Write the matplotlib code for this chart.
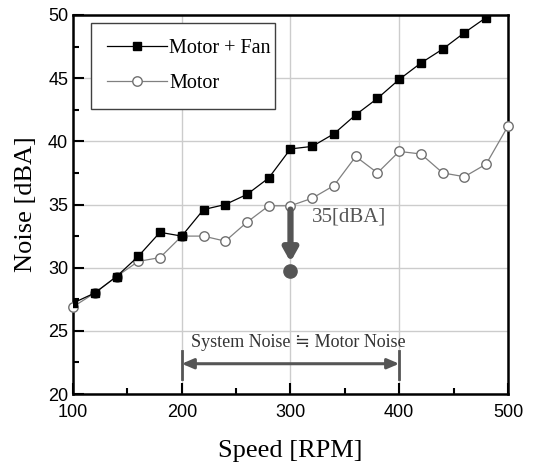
import numpy as np
import matplotlib
matplotlib.use("Agg")
from matplotlib import pyplot as plt
from matplotlib.ticker import MultipleLocator

# speed steps in RPM
speed_fan = [100, 120, 140, 160, 180, 200, 220, 240, 260, 280,
             300, 320, 340, 360, 380, 400, 420, 440, 460, 480]
noise_fan = [27.2, 28.0, 29.3, 30.9, 32.8, 32.5, 34.6, 35.0, 35.8, 37.1,
             39.4, 39.6, 40.6, 42.1, 43.4, 44.9, 46.2, 47.3, 48.6, 49.8]

speed_motor = [100, 120, 140, 160, 180, 200, 220, 240, 260, 280, 300,
               320, 340, 360, 380, 400, 420, 440, 460, 480, 500]
noise_motor = [26.9, 28.0, 29.3, 30.5, 30.8, 32.5, 32.5, 32.1, 33.6, 34.9, 34.9,
               35.5, 36.5, 38.8, 37.5, 39.2, 39.0, 37.5, 37.2, 38.2, 41.2]

# annotation values
drop_x = 300
drop_from = 34.9
drop_to = 29.75
band_lo, band_hi = 200, 400
band_y = 22.4

serif = ['Liberation Serif', 'DejaVu Serif']
ann_col = '#555555'

fig = plt.figure(figsize=(5.45, 4.68), dpi=100)
ax = fig.add_axes([0.134, 0.158, 0.798, 0.810])

ax.plot(speed_fan, noise_fan, '-', color='black', lw=0.9, marker='s',
        markersize=6.2, markerfacecolor='black', markeredgecolor='black',
        label='Motor + Fan', zorder=4, clip_on=True)
ax.plot(speed_motor, noise_motor, '-', color='#808080', lw=0.9, marker='o',
        markersize=6.8, markerfacecolor='white', markeredgecolor='#707070',
        label='Motor', zorder=3, clip_on=False)

# drop arrow at 300 RPM
ax.annotate('', xy=(drop_x, drop_to + 0.7), xytext=(drop_x, drop_from - 0.3),
            arrowprops=dict(arrowstyle='-|>,head_width=0.42,head_length=0.75',
                            color=ann_col, lw=4.5, shrinkA=0, shrinkB=0), zorder=5)
ax.plot([drop_x], [drop_to], 'o', color=ann_col, markersize=9.5, zorder=5)
ax.text(320, 34.0, '35[dBA]', family=serif, fontsize=15, color=ann_col,
        ha='left', va='center')

# system noise band
ax.annotate('', xy=(band_lo, band_y), xytext=(band_hi, band_y),
            arrowprops=dict(arrowstyle='<|-|>,head_width=0.3,head_length=0.7',
                            color=ann_col, lw=2.2, shrinkA=0, shrinkB=0))
ax.plot([band_lo, band_lo], [21.2, 23.4], color=ann_col, lw=2)
ax.plot([band_hi, band_hi], [21.2, 23.4], color=ann_col, lw=2)
ax.text(307.5, 24.1, 'System Noise \u2252 Motor Noise', family=serif,
        fontsize=13, color='#333333', ha='center', va='center')

ax.set_xlim(100, 500)
ax.set_ylim(20, 50)
ax.xaxis.set_major_locator(MultipleLocator(100))
ax.xaxis.set_minor_locator(MultipleLocator(50))
ax.yaxis.set_major_locator(MultipleLocator(5))
ax.yaxis.set_minor_locator(MultipleLocator(2.5))
ax.grid(True, which='major', color='#cccccc', lw=1)
ax.set_axisbelow(True)
ax.tick_params(which='both', direction='in', width=1.5, labelsize=13,
               labelfontfamily='Liberation Sans')
ax.tick_params(which='major', length=8)
ax.tick_params(which='minor', length=4)
ax.tick_params(axis='x', pad=7)
for s in ax.spines.values():
    s.set_linewidth(1.8)

ax.set_xlabel('Speed [RPM]', family=serif, fontsize=19, labelpad=14)
ax.set_ylabel('Noise [dBA]', family=serif, fontsize=19, labelpad=8)

leg = ax.legend(loc='upper left', bbox_to_anchor=(0.041, 0.979, 0.423, 0.0),
                mode='expand', prop={'family': serif, 'size': 14.5},
                frameon=True, fancybox=False, edgecolor='#404040', framealpha=1,
                borderpad=0.8, handlelength=3.0, handletextpad=0.1, labelspacing=0.8,
                borderaxespad=0)
leg.get_frame().set_linewidth(1.0)

fig.savefig('out.png', dpi=100)
